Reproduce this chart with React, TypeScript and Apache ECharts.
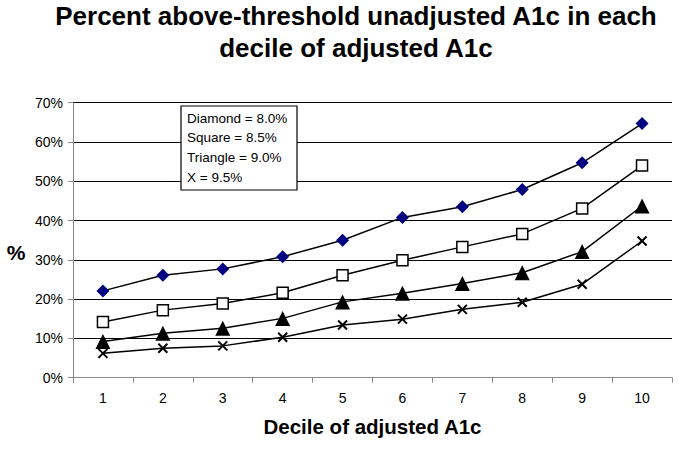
import React, { useEffect, useRef } from "react";
import * as echarts from "echarts";

const categories = ["1", "2", "3", "4", "5", "6", "7", "8", "9", "10"];
const diamond = [22.1, 26.1, 27.7, 30.8, 35.0, 40.8, 43.5, 47.9, 54.7, 64.7];
const square = [14.2, 17.2, 18.9, 21.6, 26.1, 29.9, 33.3, 36.6, 43.1, 54.0];
const triangle = [9.2, 11.3, 12.6, 15.1, 19.3, 21.5, 24.0, 26.7, 32.1, 43.7];
const xSeries = [6.2, 7.5, 8.1, 10.3, 13.4, 14.9, 17.4, 19.2, 23.8, 34.8];
const legendLines = ["Diamond = 8.0%", "Square = 8.5%", "Triangle = 9.0%", "X = 9.5%"];
const titleLines = ["Percent above-threshold unadjusted A1c in each", "decile of adjusted A1c"];

const FONT = "Arial, 'Liberation Sans', sans-serif";

export default function App() {
  const ref = useRef<HTMLDivElement>(null);
  useEffect(() => {
    if (!ref.current) return;
    const chart = echarts.init(ref.current, undefined, { renderer: "svg" });
    const lineStyle = { color: "#000", width: 1.5 };
    chart.setOption({
      animation: false,
      backgroundColor: "#fff",
      textStyle: { fontFamily: FONT },
      grid: { left: 73, right: 13, top: 102.7, bottom: 74.3, containLabel: false },
      xAxis: {
        type: "category",
        data: categories,
        boundaryGap: true,
        name: "Decile of adjusted A1c",
        nameLocation: "middle",
        nameGap: 38,
        nameTextStyle: { fontSize: 20.5, fontWeight: "bold", color: "#000", fontFamily: FONT },
        axisLine: { lineStyle: { color: "#888", width: 1 } },
        axisTick: { show: true, alignWithLabel: false, length: 5, lineStyle: { color: "#888" } },
        axisLabel: { color: "#000", fontSize: 14, margin: 13, fontFamily: FONT },
      },
      yAxis: {
        type: "value",
        min: 0,
        max: 70,
        interval: 10,
        axisLine: { show: true, lineStyle: { color: "#888", width: 1 } },
        axisTick: { show: true, length: 5, lineStyle: { color: "#888" } },
        axisLabel: { color: "#000", fontSize: 14, formatter: "{value}%", margin: 10, fontFamily: FONT },
        splitLine: { show: true, lineStyle: { color: "#000", width: 1 } },
      },
      series: [
        {
          name: "Diamond",
          type: "line",
          data: diamond,
          symbol: "diamond",
          symbolSize: 13,
          itemStyle: { color: "#000080" },
          lineStyle,
          z: 5,
        },
        {
          name: "Square",
          type: "line",
          data: square,
          symbol: "rect",
          symbolSize: 11,
          itemStyle: { color: "#fff", borderColor: "#000", borderWidth: 1.5 },
          lineStyle,
          z: 5,
        },
        {
          name: "Triangle",
          type: "line",
          data: triangle,
          symbol: "triangle",
          symbolSize: 15,
          itemStyle: { color: "#000" },
          lineStyle,
          z: 5,
        },
        {
          name: "X",
          type: "line",
          data: xSeries,
          symbol: "path://M0 0L10 10M10 0L0 10",
          symbolSize: 9,
          itemStyle: { color: "none", borderColor: "#000", borderWidth: 2 },
          lineStyle,
          z: 5,
        },
      ],
      graphic: [
        ...titleLines.map((t, i) => ({
          type: "text",
          x: 356,
          y: 16 + i * 32,
          z: 100,
          style: {
            text: t,
            fill: "#000",
            font: `bold 26px ${FONT}`,
            textAlign: "center",
            textVerticalAlign: "middle",
          },
        })),
        {
          type: "text",
          x: 16,
          y: 252,
          z: 100,
          style: {
            text: "%",
            fill: "#000",
            font: `bold 21px ${FONT}`,
            textAlign: "center",
            textVerticalAlign: "middle",
          },
        },
        {
          type: "rect",
          x: 181,
          y: 106,
          z: 100,
          shape: { x: 0, y: 0, width: 116, height: 84 },
          style: { fill: "#fff", stroke: "#000", lineWidth: 1.2 },
        },
        ...legendLines.map((t, i) => ({
          type: "text",
          x: 187,
          y: 118 + i * 19.7,
          z: 101,
          style: { text: t, fill: "#000", font: `13.5px ${FONT}`, textVerticalAlign: "middle" },
        })),
      ],
    });
    return () => chart.dispose();
  }, []);
  return <div ref={ref} style={{ width: 685, height: 452, position: "absolute", left: 0, top: 0 }} />;
}
